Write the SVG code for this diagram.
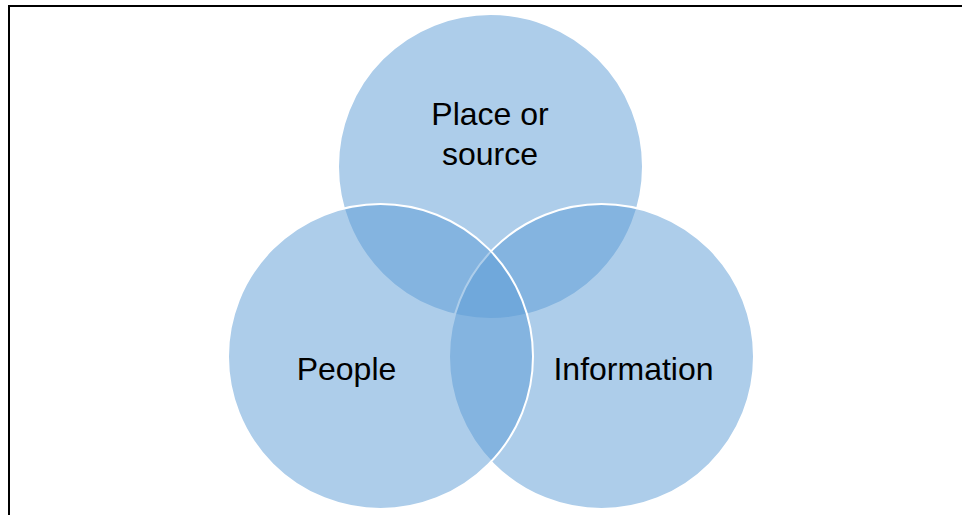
<svg xmlns="http://www.w3.org/2000/svg" width="962" height="515" viewBox="0 0 962 515">
  <style>
    .c { fill: #5B9BD5; fill-opacity: 0.5; stroke: #FFFFFF; stroke-width: 2; }
    .t { font-family: "Liberation Sans", Arial, sans-serif; font-size: 32px; fill: #000000; text-anchor: middle; }
  </style>
  <rect x="0" y="0" width="962" height="515" fill="#FFFFFF"/>
  <path d="M9,516 V6 H963" fill="none" stroke="#000000" stroke-width="2"/>
  <g id="place">
    <circle class="c" cx="490.5" cy="166.5" r="152.5"/>
  </g>
  <g id="information">
    <circle class="c" cx="601.5" cy="356.5" r="152.5"/>
  </g>
  <g id="people">
    <circle class="c" cx="380.5" cy="356.5" r="152.5"/>
  </g>
  <g id="labels">
    <text class="t" x="490" y="125">Place or</text>
    <text class="t" x="490" y="165">source</text>
    <text class="t" x="346.5" y="380">People</text>
    <text class="t" x="633.5" y="380">Information</text>
  </g>
  <g id="connectors"/>
</svg>
